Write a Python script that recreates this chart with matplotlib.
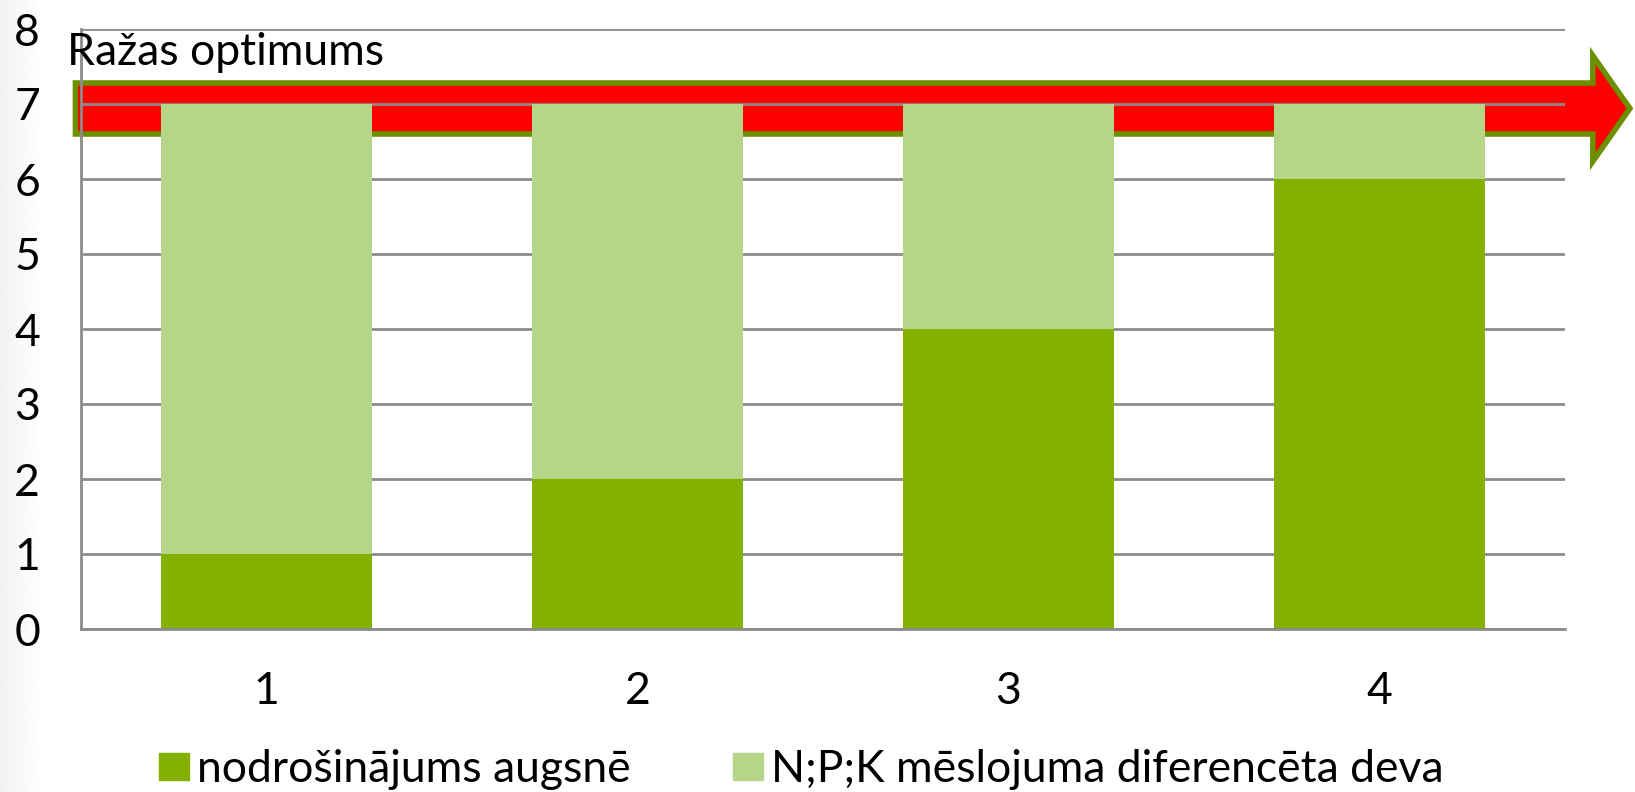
import numpy as np
import matplotlib.pyplot as plt
from matplotlib.patches import FancyArrow, Patch

plt.rcParams['font.family'] = ['Lato', 'DejaVu Sans']

kategorijas = ['1', '2', '3', '4']
augsne = [1, 2, 4, 6]
meslojums = [6, 5, 3, 1]
optimums = 7

tumsi_zals = '#84B000'
gaisi_zals = '#B5D588'
pelēks = '#8C8C8C'
burti = 32

fig = plt.figure(figsize=(16.35, 7.92), dpi=100)

# viegls pelēks fons slaida kreisajā malā
fons = fig.add_axes([0, 0, 40 / 1635, 1], zorder=-1)
pāreja = np.linspace(0.93, 1.0, 64) ** 0.7
fons.imshow(np.tile(pāreja, (8, 1)), cmap='gray', vmin=0, vmax=1,
            aspect='auto', extent=[0, 1, 0, 1])
fons.axis('off')

ax = fig.add_axes([81 / 1635, 1 - 629 / 792, (1565 - 81) / 1635, (629 - 29) / 792])
ax.patch.set_alpha(0)

x = list(range(1, len(kategorijas) + 1))
ax.bar(x, augsne, width=0.571, color=tumsi_zals, zorder=1,
       label='nodrošinājums augsnē')
ax.bar(x, meslojums, width=0.571, bottom=augsne, color=gaisi_zals, zorder=1,
       label='N;P;K mēslojuma diferencēta deva')

# bulta pie ražas optimuma
bulta = FancyArrow(0.485, optimums - 0.06, 4.19, 0, width=0.68,
                   head_width=1.41, head_length=0.10,
                   length_includes_head=True,
                   facecolor='#FF0000', edgecolor='#6B9000', linewidth=4,
                   clip_on=False, zorder=0.4)
ax.add_patch(bulta)
ax.text(0.462, 7.52, 'Ražas optimums', fontsize=burti,
        ha='left', va='baseline', zorder=3)

ax.set_xlim(0.5, 4.5)
ax.set_ylim(0, 8)
ax.set_yticks(range(0, 9))
ax.set_xticks(x)
ax.set_xticklabels(kategorijas)
ax.tick_params(axis='both', length=0, labelsize=burti)
ax.tick_params(axis='y', pad=29.5)
ax.tick_params(axis='x', pad=30)

ax.set_axisbelow(True)
ax.yaxis.grid(True, color=pelēks, linewidth=2)
ax.spines['top'].set_visible(False)
ax.spines['right'].set_visible(False)
for s in ['left', 'bottom']:
    ax.spines[s].set_color(pelēks)
    ax.spines[s].set_linewidth(2)

fig.legend(handles=[Patch(color=tumsi_zals), Patch(color=gaisi_zals)],
           labels=['nodrošinājums augsnē', 'N;P;K mēslojuma diferencēta deva'],
           loc='center', bbox_to_anchor=(801 / 1635, 1 - 770 / 792), ncol=2,
           frameon=False, fontsize=burti, handlelength=0.68, handleheight=0.56,
           handletextpad=0.18, columnspacing=2.3, borderaxespad=0)

fig.savefig('out.png', dpi=100)
